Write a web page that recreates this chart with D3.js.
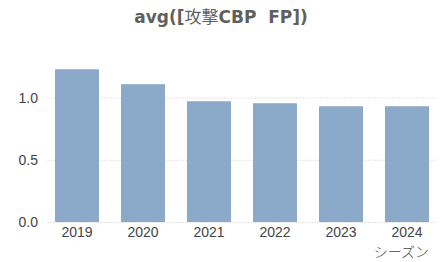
<!DOCTYPE html>
<html><head><meta charset="utf-8">
<script src="https://cdn.jsdelivr.net/npm/d3@7"></script>
<style>body{margin:0;background:#fff}svg{display:block}</style>
</head><body>
<script>
const categories = ["2019","2020","2021","2022","2023","2024"];
const values = [1.227, 1.107, 0.970, 0.954, 0.930, 0.930];
const yTicks = [0, 0.5, 1.0];
const titleParts = [["avg([", "bold"], ["攻撃", "normal"], ["CBP\u00a0\u00a0FP])", "bold"]];
const xTitle = "シーズン";

const W = 441, H = 262;
const svg = d3.select("body").append("svg").attr("width", W).attr("height", H);
const x = d3.scaleBand().domain(categories).range([44, 440]).paddingInner(1/3).paddingOuter(1/6);
const y = d3.scaleLinear().domain([0, 1]).range([222, 97.5]);

const t = svg.append("text").attr("x", 221).attr("y", 23).attr("text-anchor", "middle")
  .attr("font-family", "'DejaVu Sans', sans-serif")
  .attr("font-size", 17).attr("fill", "#5f5f5f");
t.selectAll("tspan").data(titleParts).join("tspan")
  .attr("font-weight", d => d[1])
  .attr("font-family", d => d[1] === "normal" ? "'Noto Sans CJK JP', sans-serif" : null)
  .text(d => d[0]);

const grid = svg.append("g");
grid.selectAll("line").data(yTicks).join("line")
  .attr("x1", 47).attr("x2", 436).attr("y1", d => y(d) + 0.5).attr("y2", d => y(d) + 0.5)
  .attr("stroke", "#e3e3e3").attr("stroke-dasharray", "2,1");

svg.selectAll("rect.bar").data(values).join("rect").attr("class", "bar")
  .attr("x", (d, i) => x(categories[i])).attr("width", x.bandwidth())
  .attr("y", d => y(d)).attr("height", d => y(0) - y(d)).attr("fill", "#8ba9c8");

const yAxis = d3.axisLeft(y).tickValues(yTicks).tickFormat(d3.format(".1f")).tickSize(0).tickPadding(0);
const ya = svg.append("g").attr("transform", "translate(38,0)").call(yAxis);
ya.select(".domain").remove();
ya.selectAll("text").attr("font-family", "'Liberation Sans', Arial, sans-serif").attr("font-size", 14).attr("fill", "#444").attr("dy", "0.35em");

const xAxis = d3.axisBottom(x).tickSize(0).tickPadding(0);
const xa = svg.append("g").attr("transform", "translate(0,227)").call(xAxis);
xa.select(".domain").remove();
xa.selectAll("text").attr("font-family", "'Liberation Sans', Arial, sans-serif").attr("font-size", 14).attr("fill", "#444").attr("dy", "0.71em");

svg.append("text").attr("x", 429).attr("y", 257).attr("text-anchor", "end")
  .attr("font-family", "'Noto Sans CJK JP', sans-serif").attr("font-size", 14).attr("font-weight", 300)
  .attr("fill", "#444").text(xTitle);
</script>
</body></html>
